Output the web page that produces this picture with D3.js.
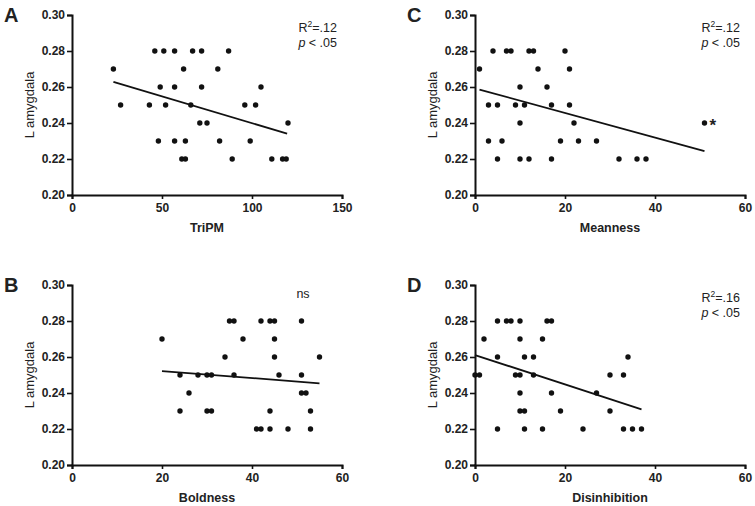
<!DOCTYPE html>
<html>
<head>
<meta charset="utf-8">
<script src="https://cdn.jsdelivr.net/npm/d3@7"></script>
<style>
  body { margin: 0; background: #fff; }
  svg { display: block; }
  text { font-family: "Liberation Sans", Arial, Helvetica, sans-serif; fill: #222; }
</style>
</head>
<body>
<svg id="chart" width="755" height="506"></svg>
<script>
// ---------- data ----------
const yTicks = [0.20, 0.22, 0.24, 0.26, 0.28, 0.30];

const triPMx = [46,51,57,67,72,87, 23,62,81, 49,57,72,105, 27,43,52,66,96,102, 71,75,120, 48,57,63,82,99, 61,63,89,111,117,119];
const triPMy = [0.28,0.28,0.28,0.28,0.28,0.28, 0.27,0.27,0.27, 0.26,0.26,0.26,0.26, 0.25,0.25,0.25,0.25,0.25,0.25, 0.24,0.24,0.24, 0.23,0.23,0.23,0.23,0.23, 0.22,0.22,0.22,0.22,0.22,0.22];
const triPMFit = [23, 0.2628, 119.5, 0.2341];
const triPMTicks = [0, 50, 100, 150];

const meanX = [4,7,8,12,13,20, 1,14,21, 10,16, 3,5,9,11,17,21, 10,22,51, 3,6,19,23,27, 5,10,12,17,32,36,38];
const meanY = [0.28,0.28,0.28,0.28,0.28,0.28, 0.27,0.27,0.27, 0.26,0.26, 0.25,0.25,0.25,0.25,0.25,0.25, 0.24,0.24,0.24, 0.23,0.23,0.23,0.23,0.23, 0.22,0.22,0.22,0.22,0.22,0.22,0.22];
const meanFit = [1, 0.2586, 51, 0.2244];
const meanStar = [51, 0.24];

const boldX = [35,36,42,44,45,51, 20,38,45, 34,45,55, 24,28,30,31,36,46,51, 26,51,52, 24,30,31,44,53, 41,42,44,48,53];
const boldY = [0.28,0.28,0.28,0.28,0.28,0.28, 0.27,0.27,0.27, 0.26,0.26,0.26, 0.25,0.25,0.25,0.25,0.25,0.25,0.25, 0.24,0.24,0.24, 0.23,0.23,0.23,0.23,0.23, 0.22,0.22,0.22,0.22,0.22];
const boldFit = [20, 0.2522, 55, 0.2454];

const disX = [5,7,8,10,16,17, 2,10,15, 5,11,13,34, 0,1,9,10,13,30,33, 10,17,27, 10,11,19,30, 5,11,15,24,33,35,37];
const disY = [0.28,0.28,0.28,0.28,0.28,0.28, 0.27,0.27,0.27, 0.26,0.26,0.26,0.26, 0.25,0.25,0.25,0.25,0.25,0.25,0.25, 0.24,0.24,0.24, 0.23,0.23,0.23,0.23, 0.22,0.22,0.22,0.22,0.22,0.22,0.22];
const disFit = [0, 0.2611, 37, 0.2309];

const subTicks = [0, 20, 40, 60];

const panels = [
  {letter: "A", title: "TriPM", xs: triPMx, ys: triPMy, fit: triPMFit, xmax: 150, xticks: triPMTicks, stat: ["R2", ".12"], left: 72, top: 15},
  {letter: "C", title: "Meanness", xs: meanX, ys: meanY, fit: meanFit, xmax: 60, xticks: subTicks, stat: ["R2", ".12"], star: meanStar, left: 475, top: 15},
  {letter: "B", title: "Boldness", xs: boldX, ys: boldY, fit: boldFit, xmax: 60, xticks: subTicks, stat: ["ns"], left: 72, top: 285},
  {letter: "D", title: "Disinhibition", xs: disX, ys: disY, fit: disFit, xmax: 60, xticks: subTicks, stat: ["R2", ".16"], left: 475, top: 285}
];

// ---------- drawing ----------
const svg = d3.select("#chart");
const W = 270, H = 180;

panels.forEach(p => {
  const g = svg.append("g").attr("transform", `translate(${p.left},${p.top})`);
  const x = d3.scaleLinear().domain([0, p.xmax]).range([0, W]);
  const y = d3.scaleLinear().domain([0.20, 0.30]).range([H, 0]);

  // axes
  const yAxis = d3.axisLeft(y).tickValues(yTicks).tickFormat(d3.format(".2f")).tickSizeOuter(0).tickSize(5).tickPadding(2);
  const xAxis = d3.axisBottom(x).tickValues(p.xticks).tickFormat(d3.format("d")).tickSizeOuter(0).tickSize(4).tickPadding(4);

  const ya = g.append("g").call(yAxis);
  const xa = g.append("g").attr("transform", `translate(0,${H})`).call(xAxis);
  [ya, xa].forEach(a => {
    a.select(".domain").attr("stroke", "#111").attr("stroke-width", 2);
    a.selectAll(".tick line").attr("stroke", "#111").attr("stroke-width", 1.6);
    a.selectAll(".tick text").attr("font-family", "Liberation Sans, Arial, sans-serif")
      .attr("font-size", 12).attr("font-weight", "bold").attr("fill", "#222");
  });

  // axis titles
  g.append("text")
    .attr("transform", `translate(-38,${H / 2}) rotate(-90)`)
    .attr("text-anchor", "middle")
    .attr("font-size", 13)
    .text("L amygdala");
  g.append("text")
    .attr("x", W / 2).attr("y", H + 37)
    .attr("text-anchor", "middle")
    .attr("font-size", 12.5).attr("font-weight", "bold")
    .text(p.title);

  // panel letter
  svg.append("text")
    .attr("x", p.left - 68).attr("y", p.top + 7)
    .attr("font-size", 20).attr("font-weight", "bold").attr("fill", "#111")
    .text(p.letter);

  // fit line
  g.append("line")
    .attr("x1", x(p.fit[0])).attr("y1", y(p.fit[1]))
    .attr("x2", x(p.fit[2])).attr("y2", y(p.fit[3]))
    .attr("stroke", "#111").attr("stroke-width", 1.8);

  // points
  g.selectAll("circle.pt").data(p.xs.map((v, i) => [v, p.ys[i]])).enter()
    .append("circle").attr("class", "pt")
    .attr("cx", d => x(d[0])).attr("cy", d => y(d[1]))
    .attr("r", 2.7).attr("fill", "#111");

  if (p.star) {
    g.append("text")
      .attr("x", x(p.star[0]) + 5).attr("y", y(p.star[1]) + 8)
      .attr("font-size", 17).attr("font-weight", "bold").attr("fill", "#111")
      .text("*");
  }

  // statistics annotation
  if (p.stat[0] === "R2") {
    const t1 = g.append("text").attr("x", W - 5).attr("y", 17).attr("text-anchor", "end").attr("font-size", 12.5);
    t1.append("tspan").text("R");
    t1.append("tspan").attr("dy", -5).attr("font-size", 8.5).text("2");
    t1.append("tspan").attr("dy", 5).text("=" + p.stat[1]);
    const t2 = g.append("text").attr("x", W - 5).attr("y", 32).attr("text-anchor", "end").attr("font-size", 12.5);
    t2.append("tspan").attr("font-style", "italic").text("p");
    t2.append("tspan").text(" < .05");
  } else {
    g.append("text").attr("x", 231).attr("y", 13).attr("text-anchor", "middle").attr("font-size", 12.5).text(p.stat[0]);
  }
});
</script>
</body>
</html>
